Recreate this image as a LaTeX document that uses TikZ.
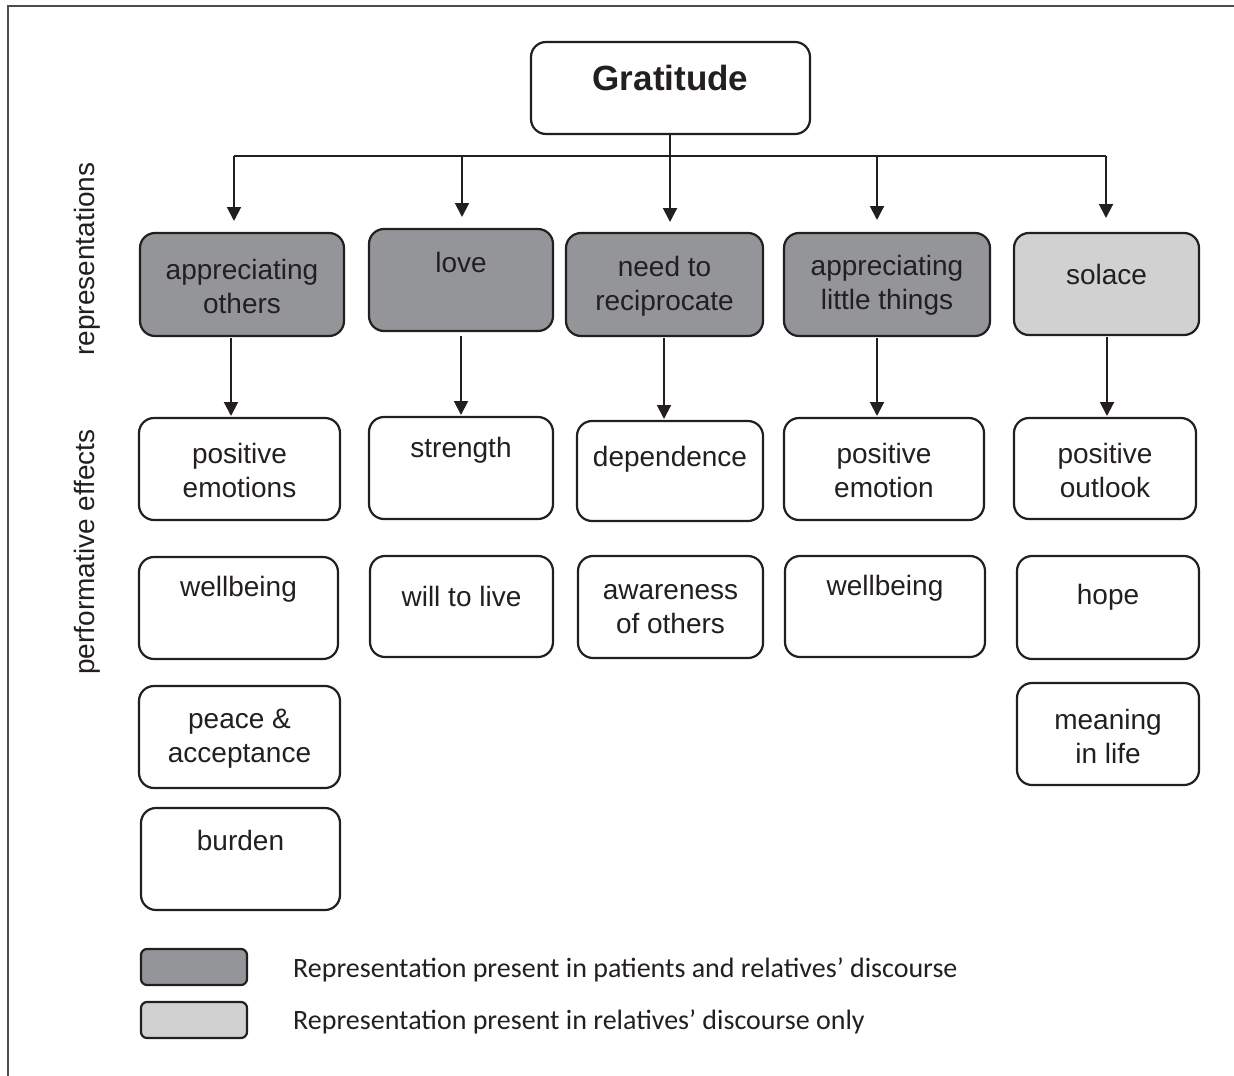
\documentclass[tikz,border=0pt]{standalone}
\usepackage{fontspec}
\setmainfont{Liberation Sans}
\newfontfamily\legendfont{Carlito}
\usetikzlibrary{arrows.meta,calc}
\definecolor{ink}{HTML}{231F20}
\definecolor{darkfill}{HTML}{939598}
\definecolor{lightfill}{HTML}{D1D1D1}
\newcommand\mybox[6]{%
  \node[#6, minimum width={(#4-#2)*1pt}, minimum height={(#5-#3)*1pt}] (#1) at ({(#2+#4)/2},{(#3+#5)/2}) {};}
\newcommand\mytext[3]{%
  \node[lbl] (#1t) at ([yshift=#2pt]#1.center) {#3};}
\begin{document}
\begin{tikzpicture}[x=1pt,y=-1pt,
  boxbase/.style={draw=ink, line width=2.2pt, rounded corners=15pt, inner sep=0pt, outer sep=0pt},
  whitebox/.style={boxbase, fill=white},
  darkbox/.style={boxbase, fill=darkfill},
  lightbox/.style={boxbase, fill=lightfill},
  legbox/.style={draw=ink, line width=2.2pt, rounded corners=6pt, inner sep=0pt, outer sep=0pt},
  lbl/.style={text=ink, font=\fontsize{28}{34}\selectfont, align=center, inner sep=0pt},
  side/.style={text=ink, font=\fontsize{28}{34}\selectfont, rotate=90, inner sep=0pt},
  legtext/.style={text=ink, font=\legendfont\fontsize{28}{32}\selectfont, anchor=west, inner sep=0pt},
  arr/.style={draw=ink, line width=2pt, -{Triangle[width=14pt,length=14pt]}},
  barline/.style={draw=ink, line width=1.5pt}
]
\useasboundingbox (0,0) rectangle (1234,1076);
% frame
\coordinate (fbl) at (8,1080);
\coordinate (ftl) at (8,6);
\coordinate (ftr) at (1240,6);
\draw[draw=ink!80, line width=1.6pt] (fbl) -- (ftl) -- (ftr);

% root
\mybox{root}{531}{42}{810}{134}{whitebox}
\node[lbl, font=\fontsize{35}{40}\selectfont\bfseries] (roott) at ([yshift=10pt]root.center) {Gratitude};

% representations
\mybox{r1}{140}{233}{344}{336}{darkbox}
\mybox{r2}{369}{229}{553}{331}{darkbox}
\mybox{r3}{566}{233}{763}{336}{darkbox}
\mybox{r4}{784}{233}{990}{336}{darkbox}
\mybox{r5}{1014}{233}{1199}{335}{lightbox}
\mytext{r1}{-2}{appreciating\\others}
\mytext{r2}{18}{love}
\mytext{r3}{-2}{need to\\reciprocate}
\mytext{r4}{-1}{appreciating\\little things}
\mytext{r5}{10}{solace}

% effects row 2
\mybox{a1}{139}{418}{340}{520}{whitebox}
\mybox{a2}{369}{417}{553}{519}{whitebox}
\mybox{a3}{577}{421}{763}{521}{whitebox}
\mybox{a4}{784}{418}{984}{520}{whitebox}
\mybox{a5}{1014}{418}{1196}{519}{whitebox}
\mytext{a1}{-1}{positive\\emotions}
\mytext{a2}{18}{strength}
\mytext{a3}{12}{dependence}
\mytext{a4}{-1}{positive\\emotion}
\mytext{a5}{-2}{positive\\outlook}

% row 3
\mybox{b1}{139}{557}{338}{659}{whitebox}
\mybox{b2}{370}{556}{553}{657}{whitebox}
\mybox{b3}{578}{556}{763}{658}{whitebox}
\mybox{b4}{785}{556}{985}{657}{whitebox}
\mybox{b5}{1017}{556}{1199}{659}{whitebox}
\mytext{b1}{19}{wellbeing}
\mytext{b2}{10}{will to live}
\mytext{b3}{-2}{awareness\\of others}
\mytext{b4}{18}{wellbeing}
\mytext{b5}{10}{hope}

% row 4
\mybox{c1}{139}{686}{340}{788}{whitebox}
\mybox{c5}{1017}{683}{1199}{785}{whitebox}
\mytext{c1}{-2}{peace \&\\acceptance}
\mytext{c5}{-2}{meaning\\in life}

% row 5
\mybox{d1}{141}{808}{340}{910}{whitebox}
\mytext{d1}{19}{burden}

% side labels
\node[side] (sideA) at (87,259) {representations};
\node[side] (sideB) at (87,552) {performative effects};

% top connectors
\coordinate (bar1) at (234,156);
\coordinate (bar2) at (462,156);
\coordinate (bar4) at (877,156);
\coordinate (bar5) at (1106,156);
\draw[barline] (bar1) -- (bar5);
\draw[arr] (root.south -| 670,0) -- ($(670,0 |- r3.north)+(0,-11)$);
\draw[arr] (bar1) -- ($(bar1 |- r1.north)+(0,-12)$);
\draw[arr] (bar2) -- ($(bar2 |- r2.north)+(0,-12)$);
\draw[arr] (bar4) -- ($(bar4 |- r4.north)+(0,-13)$);
\draw[arr] (bar5) -- ($(bar5 |- r5.north)+(0,-15)$);

% lower connectors
\draw[arr] ($(231,0 |- r1.south)+(0,2)$) -- ($(231,0 |- a1.north)+(0,-2)$);
\draw[arr] ($(461,0 |- r2.south)+(0,5)$) -- ($(461,0 |- a2.north)+(0,-2)$);
\draw[arr] ($(664,0 |- r3.south)+(0,2)$) -- ($(664,0 |- a3.north)+(0,-2)$);
\draw[arr] ($(877,0 |- r4.south)+(0,2)$) -- ($(877,0 |- a4.north)+(0,-2)$);
\draw[arr] ($(1107,0 |- r5.south)+(0,2)$) -- ($(1107,0 |- a5.north)+(0,-2)$);

% legend
\node[legbox, fill=darkfill, minimum width=106pt, minimum height=36pt] (leg1) at (194,967) {};
\node[legbox, fill=lightfill, minimum width=106pt, minimum height=36pt] (leg2) at (194,1020) {};
\node[legtext] (leg1t) at (293,970) {Representation present in patients and relatives’ discourse};
\node[legtext] (leg2t) at (293,1022) {Representation present in relatives’ discourse only};
\end{tikzpicture}
\end{document}
